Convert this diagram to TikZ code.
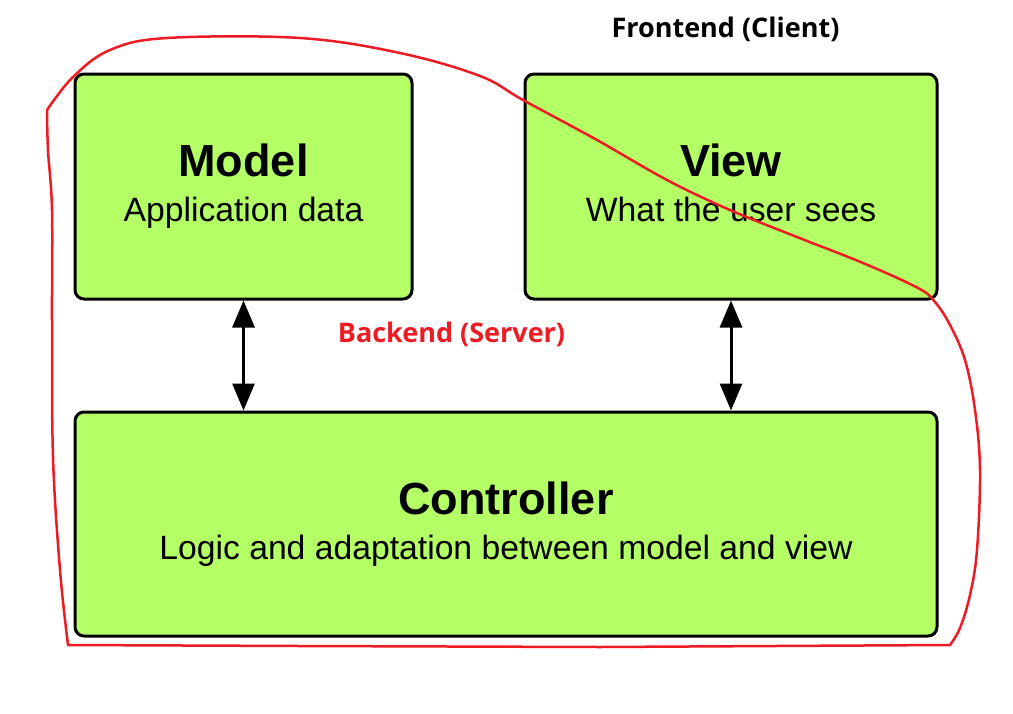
\documentclass[tikz,border=0pt]{standalone}
\usepackage{fontspec}
\setmainfont{Liberation Sans}
\newfontfamily\notefont{Open Sans}
\usetikzlibrary{arrows.meta}

\definecolor{mvcgreen}{RGB}{180,255,102}
\definecolor{penred}{RGB}{237,28,36}

\def\Mx{243.5}
\def\Vx{731}
\def\Cx{506}

\begin{document}
\begin{tikzpicture}[x=1pt, y=-1pt, line width=3pt,
    block/.style={draw=black, fill=mvcgreen, rounded corners=9pt, align=center,
      font=\fontsize{33.7}{45}\selectfont},
    link/.style={{Triangle[length=27pt,width=22pt]}-{Triangle[length=27pt,width=22pt]}},
    note/.style={anchor=base, font=\notefont\bfseries\fontsize{27}{32}\selectfont}]
    \useasboundingbox (0,0) rectangle (1013,713);

    \node[block, minimum width=337pt, minimum height=225pt] (model) at (\Mx,186.5)
        {{\fontsize{45}{45}\selectfont\bfseries Model\vphantom{Mdl}}\\Application data\vphantom{py}};
    \node[block, minimum width=412pt, minimum height=225pt] (view) at (\Vx,186.5)
        {{\fontsize{45}{45}\selectfont\bfseries View\vphantom{Mdl}}\\What the user sees\vphantom{py}};
    \node[block, minimum width=862pt, minimum height=224pt] (controller) at (\Cx,524)
        {{\fontsize{45}{45}\selectfont\bfseries Controller\vphantom{Mdl}}\\Logic and adaptation between model and view\vphantom{py}};

    \draw[link] (model.south) -- (model.south |- controller.north);
    \draw[link] (view.south) -- (view.south |- controller.north);

    \node[note] (frontend) at (725.5,37) {Frontend (Client)};
    \node[note, text=penred] (backend) at (451.5,342) {Backend (Server)};

    \draw[penred, line width=2.5pt, line join=round]
        plot[smooth, tension=0.6] coordinates {(47,110) (48,150) (52,210) (52,320) (53,457) (60,570) (68,645)}
        -- (300,646) -- (600,647) -- (950,645)
        -- plot[smooth, tension=0.6] coordinates {(950,645) (960,628) (970,595) (977,550) (980,470)
            (975,410) (965,360) (950,325) (935,302) (918,288) (863,263) (797,237) (730,210)
            (667,180) (597,140) (523,100) (480,76) (400,53) (300,38) (167,38) (110,50) (73,77) (47,110)}
        -- cycle;
\end{tikzpicture}
\end{document}
